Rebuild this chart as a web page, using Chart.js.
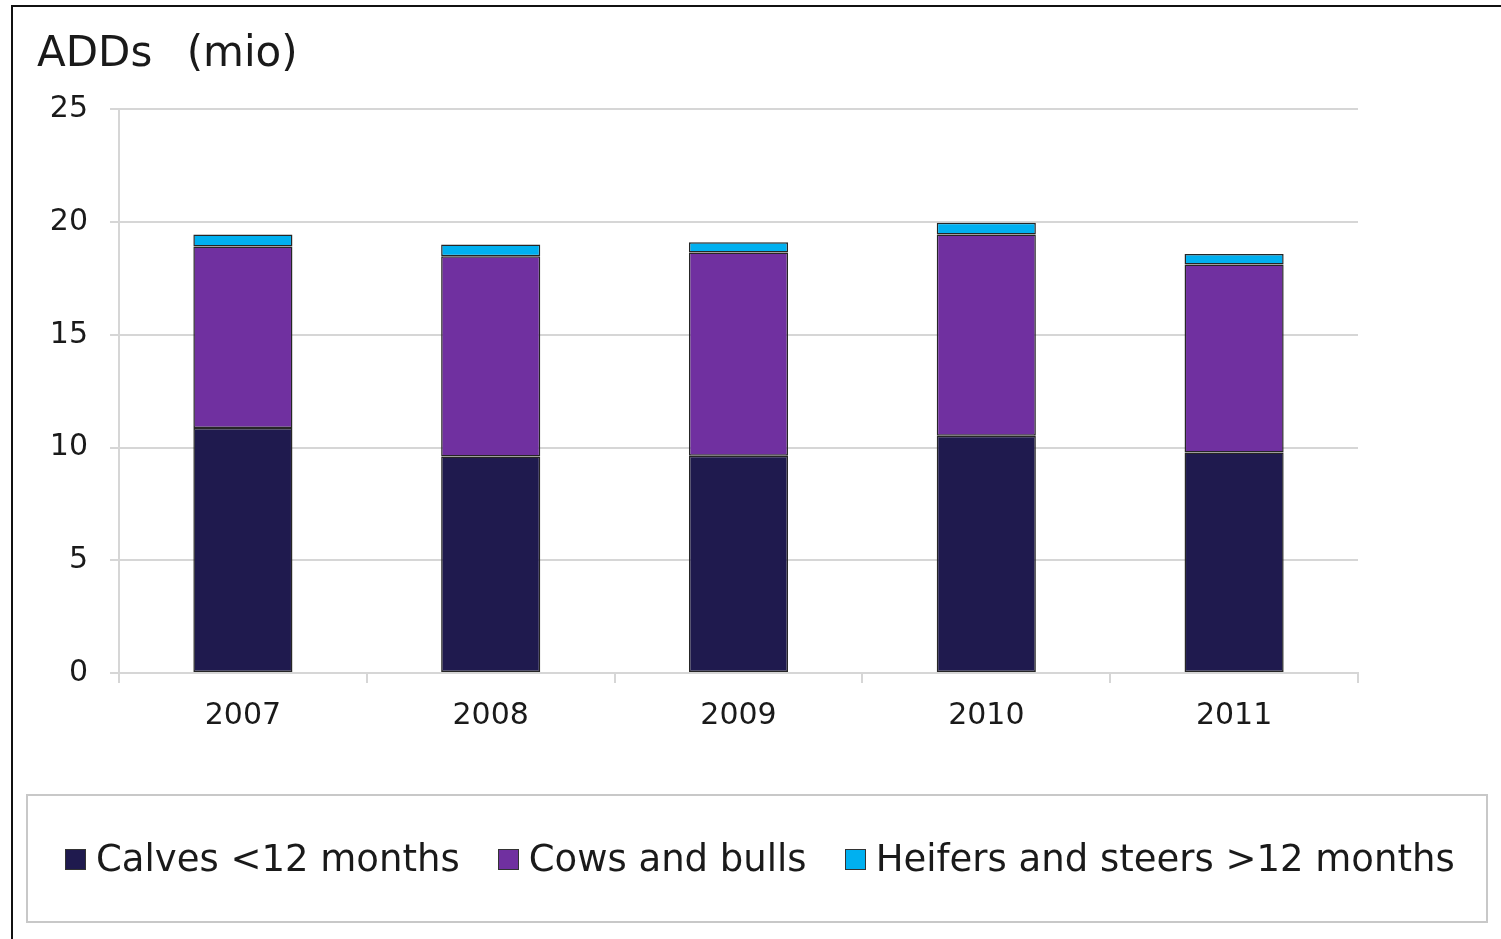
<!DOCTYPE html>
<html>
<head>
<meta charset="utf-8">
<title>ADDs (mio)</title>
<script src="https://cdn.jsdelivr.net/npm/chart.js@4/dist/chart.umd.min.js"></script>
<style>
  html, body { margin: 0; padding: 0; background: #fff; }
  #wrap { position: relative; width: 1501px; height: 939px; overflow: hidden; }
  #frame {
    position: absolute; left: 11px; top: 5px; right: -10px; bottom: -10px;
    border-left: 2px solid #111; border-top: 2px solid #111;
  }
  #chartBox { position: absolute; left: 0; top: 0; width: 1501px; height: 939px; }
  #legend {
    position: absolute; left: 26px; top: 794px; width: 1462px; height: 129px;
    border: 2px solid #c8c8c8;
    display: flex; align-items: center; justify-content: flex-start;
    padding-left: 37px; box-sizing: border-box;
    font-family: "DejaVu Sans", sans-serif; font-size: 37px; color: #1a1a1a;
  }
  .item { display: flex; align-items: center; margin-right: 38px; white-space: pre; }
  .swatch { width: 19px; height: 19px; border: 1px solid #333; margin-right: 10px; margin-top: 2px; }
</style>
</head>
<body>
<div id="wrap">
  <div id="frame"></div>
  <div id="chartBox"><canvas id="addsChart"></canvas></div>
  <div id="legend"></div>
</div>
<script>
"use strict";

/* ---------- data ---------- */
const years = ["2007", "2008", "2009", "2010", "2011"];
const calves = [10.87, 9.60, 9.64, 10.52, 9.78];
const cowsBulls = [8.05, 8.89, 9.01, 8.93, 8.34];
const heifersSteers = [0.53, 0.52, 0.46, 0.52, 0.47];

const seriesNames = ["Calves <12 months", "Cows and bulls", "Heifers and steers >12 months"];
const seriesColors = ["#1f1a4e", "#7030a0", "#00b0f0"];
const yTicks = [0, 5, 10, 15, 20, 25];

Chart.defaults.font.family = "'DejaVu Sans', sans-serif";
Chart.defaults.color = "#1a1a1a";

const gridColor = "#d6d6d6";

function makeDataset(i, values) {
  return {
    label: seriesNames[i],
    data: values,
    backgroundColor: seriesColors[i],
    borderColor: "#262626",
    borderWidth: 1.5,
    borderSkipped: false,
    barPercentage: 0.8,
    categoryPercentage: 0.5
  };
}

new Chart(document.getElementById("addsChart"), {
  type: "bar",
  data: {
    labels: years,
    datasets: [
      makeDataset(0, calves),
      makeDataset(1, cowsBulls),
      makeDataset(2, heifersSteers)
    ]
  },
  options: {
    responsive: true,
    maintainAspectRatio: false,
    animation: false,
    layout: { padding: { left: 37, right: 143, top: 10, bottom: 190 } },
    plugins: {
      legend: { display: false }, // drawn as html box below
      tooltip: { enabled: false },
      title: {
        display: true,
        text: "ADDs\u2002 (mio)",
        align: "start",
        color: "#1a1a1a",
        font: { size: 42, weight: "normal" },
        padding: { top: 20, bottom: 29 }
      }
    },
    scales: {
      x: {
        stacked: true,
        grid: {
          display: true,
          drawOnChartArea: false,
          drawTicks: true,
          tickLength: 10,
          color: gridColor,
          lineWidth: 2
        },
        border: { display: true, color: gridColor, width: 2 },
        ticks: { font: { size: 30 }, padding: 15, color: "#1a1a1a" }
      },
      y: {
        stacked: true,
        min: 0,
        max: 25,
        afterBuildTicks: axis => { axis.ticks = yTicks.map(v => ({ value: v })); },
        afterFit: axis => { axis.width = 82; },
        grid: { color: gridColor, lineWidth: 2, tickLength: 9 },
        border: { display: true, color: gridColor, width: 2 },
        ticks: { font: { size: 30 }, padding: 22, color: "#1a1a1a" }
      }
    }
  }
});

/* ---------- legend ---------- */
const legendEl = document.getElementById("legend");
seriesNames.forEach((name, i) => {
  const item = document.createElement("div");
  item.className = "item";
  const sw = document.createElement("span");
  sw.className = "swatch";
  sw.style.background = seriesColors[i];
  const txt = document.createElement("span");
  txt.textContent = name;
  item.appendChild(sw);
  item.appendChild(txt);
  legendEl.appendChild(item);
});
</script>
</body>
</html>
